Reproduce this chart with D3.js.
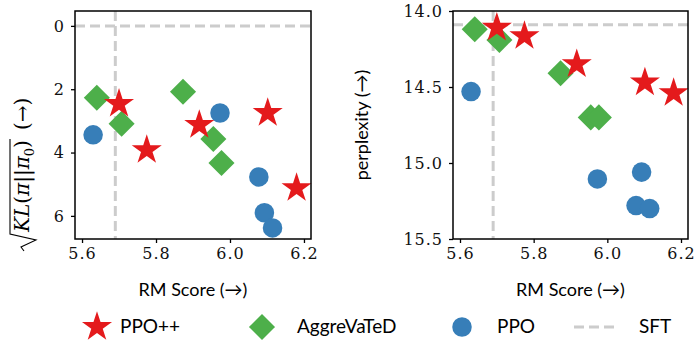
<!DOCTYPE html>
<html>
<head>
<meta charset="utf-8">
<script src="https://cdn.jsdelivr.net/npm/d3@7"></script>
<style>
  body { margin: 0; background: white; }
  .lab { font-family: Lato, "Open Sans", sans-serif; font-size: 18px; }
  .leg { font-family: Lato, "Open Sans", sans-serif; font-size: 19px; }
</style>
</head>
<body>
<div id="viz"></div>
<script>
// values
var series = ['PPO++', 'AggreVaTeD', 'PPO'];
var colors = ['#e41a1c', '#4daf4a', '#377eb8'];

var ppoppRM  = [5.700, 5.775, 5.917, 6.102, 6.180];
var ppoppKL  = [2.46, 3.92, 3.13, 2.75, 5.12];
var ppoppPPL = [14.11, 14.165, 14.35, 14.47, 14.54];

var aggRM  = [5.640, 5.707, 5.873, 5.955, 5.977];
var aggKL  = [2.27, 3.09, 2.08, 3.57, 4.33];
var aggPPL = [14.12, 14.19, 14.41, 14.70, 14.70];

var ppoRM  = [5.630, 5.973, 6.078, 6.093, 6.115];
var ppoKL  = [3.44, 2.75, 4.77, 5.90, 6.38];
var ppoPPL = [14.53, 15.105, 15.28, 15.06, 15.30];

var sftRM = 5.69, sftKL = 0, sftPPL = 14.09;

var xTicks = [5.6, 5.8, 6.0, 6.2];
var klTicks = [0, 2, 4, 6];
var pplTicks = [14.0, 14.5, 15.0, 15.5];

var width = 696, height = 342;
var serif = 'DejaVu Serif';

var svg = d3.select('#viz')
  .append('svg')
  .attr('width', width)
  .attr('height', height);

// marker shapes
var shapes = [
  d3.symbol().type(d3.symbolStar).size(280),
  d3.symbol().type(d3.symbolSquare).size(340),
  d3.symbol().type(d3.symbolCircle).size(300)
];
var rotations = [0, 45, 0];

function drawPanel(left, right, yDomain, yTicks, yFmt, rm, vals, sftY) {
  var top = 11, bottom = 239;
  var x = d3.scaleLinear().domain([5.581, 6.219]).range([left, right]);
  var y = d3.scaleLinear().domain(yDomain).range([top, bottom]);
  var g = svg.append('g');

  // SFT reference lines
  g.append('line')
    .attr('x1', left).attr('x2', right)
    .attr('y1', y(sftY)).attr('y2', y(sftY))
    .attr('stroke', '#cccccc').attr('stroke-width', 3)
    .attr('stroke-dasharray', '10,5');
  g.append('line')
    .attr('x1', x(sftRM)).attr('x2', x(sftRM))
    .attr('y1', top).attr('y2', bottom)
    .attr('stroke', '#cccccc').attr('stroke-width', 3)
    .attr('stroke-dasharray', '10,5');

  [2, 1, 0].forEach(function(s) {
    g.append('g')
      .selectAll('path')
      .data(rm[s].map(function(d, i) { return [d, vals[s][i]]; }))
      .join('path')
      .attr('d', shapes[s]())
      .attr('fill', colors[s])
      .attr('transform', function(d) {
        return 'translate(' + x(d[0]) + ',' + y(d[1]) + ') rotate(' + rotations[s] + ')';
      });
  });

  // frame
  g.append('rect')
    .attr('x', left).attr('y', top)
    .attr('width', right - left).attr('height', bottom - top)
    .attr('fill', 'none').attr('stroke', 'black').attr('stroke-width', 1.5);

  var xa = g.append('g')
    .attr('transform', 'translate(0,' + bottom + ')')
    .call(d3.axisBottom(x).tickValues(xTicks).tickFormat(d3.format('.1f')).tickSizeOuter(0).tickSize(4).tickPadding(5));
  var ya = g.append('g')
    .attr('transform', 'translate(' + left + ',0)')
    .call(d3.axisLeft(y).tickValues(yTicks).tickFormat(yFmt).tickSizeOuter(0).tickSize(4).tickPadding(6));
  [xa, ya].forEach(function(a) {
    a.select('.domain').remove();
    a.selectAll('text')
      .style('font-family', serif)
      .style('font-size', '16px')
      .style('letter-spacing', '1px')
      .attr('fill', '#111');
    a.selectAll('.tick line').attr('stroke-width', 1.3);
  });

  g.append('text')
    .attr('class', 'lab')
    .attr('x', (left + right) / 2)
    .attr('y', 296)
    .attr('text-anchor', 'middle')
    .text('RM Score (\u2192)');
  return g;
}

drawPanel(75, 311, [-0.47, 6.73], klTicks, d3.format('d'),
  [ppoppRM, aggRM, ppoRM], [ppoppKL, aggKL, ppoKL], sftKL);
drawPanel(453, 688, [14.0, 15.5], pplTicks, d3.format('.1f'),
  [ppoppRM, aggRM, ppoRM], [ppoppPPL, aggPPL, ppoPPL], sftPPL);

// left y label: sqrt(KL(pi||pi_0)) (->)
var yl = svg.append('g').attr('transform', 'translate(29,0) rotate(-90)');
var kl = yl.append('text')
  .attr('x', -232).attr('y', 0)
  .style('font-family', serif)
  .style('font-size', '20px');
kl.append('tspan').style('font-style', 'italic').text('KL');
kl.append('tspan').text('(');
kl.append('tspan').style('font-style', 'italic').text('\u03c0');
kl.append('tspan').text('||');
kl.append('tspan').style('font-style', 'italic').text('\u03c0');
kl.append('tspan').attr('dy', 5).style('font-size', '13px').text('0');
kl.append('tspan').attr('dy', -5).text(')');
var bb = kl.node().getBBox();
yl.append('path')
  .attr('d', 'M' + (bb.x - 18) + ',-5 L' + (bb.x - 14) + ',-8 L' + (bb.x - 7) + ',7 L' + (bb.x - 1) + ',-19 L' + (bb.x + bb.width + 1) + ',-19')
  .attr('fill', 'none').attr('stroke', 'black').attr('stroke-width', 1.1);
yl.append('text')
  .attr('x', bb.x + bb.width + 10).attr('y', 0)
  .style('font-family', serif)
  .style('font-size', '20px')
  .text('(\u2192)');

// right y label
svg.append('text')
  .attr('class', 'lab')
  .attr('transform', 'translate(368,125) rotate(-90)')
  .attr('text-anchor', 'middle')
  .text('perplexity (\u2192)');

// legend
var legX = [97, 262, 462, 594];
var textX = [120, 297, 497, 639];
var legY = 327;
var legend = svg.append('g');
series.forEach(function(s, i) {
  legend.append('path')
    .attr('d', shapes[i]())
    .attr('fill', colors[i])
    .attr('transform', 'translate(' + legX[i] + ',' + legY + ') rotate(' + rotations[i] + ')');
  legend.append('text')
    .attr('class', 'leg')
    .attr('x', textX[i]).attr('y', legY + 6)
    .text(s);
});
legend.append('line')
  .attr('x1', legX[3] - 20).attr('x2', legX[3] + 20)
  .attr('y1', legY).attr('y2', legY)
  .attr('stroke', '#cccccc').attr('stroke-width', 3)
  .attr('stroke-dasharray', '10,5');
legend.append('text')
  .attr('class', 'leg')
  .attr('x', textX[3]).attr('y', legY + 6)
  .text('SFT');
</script>
</body>
</html>
